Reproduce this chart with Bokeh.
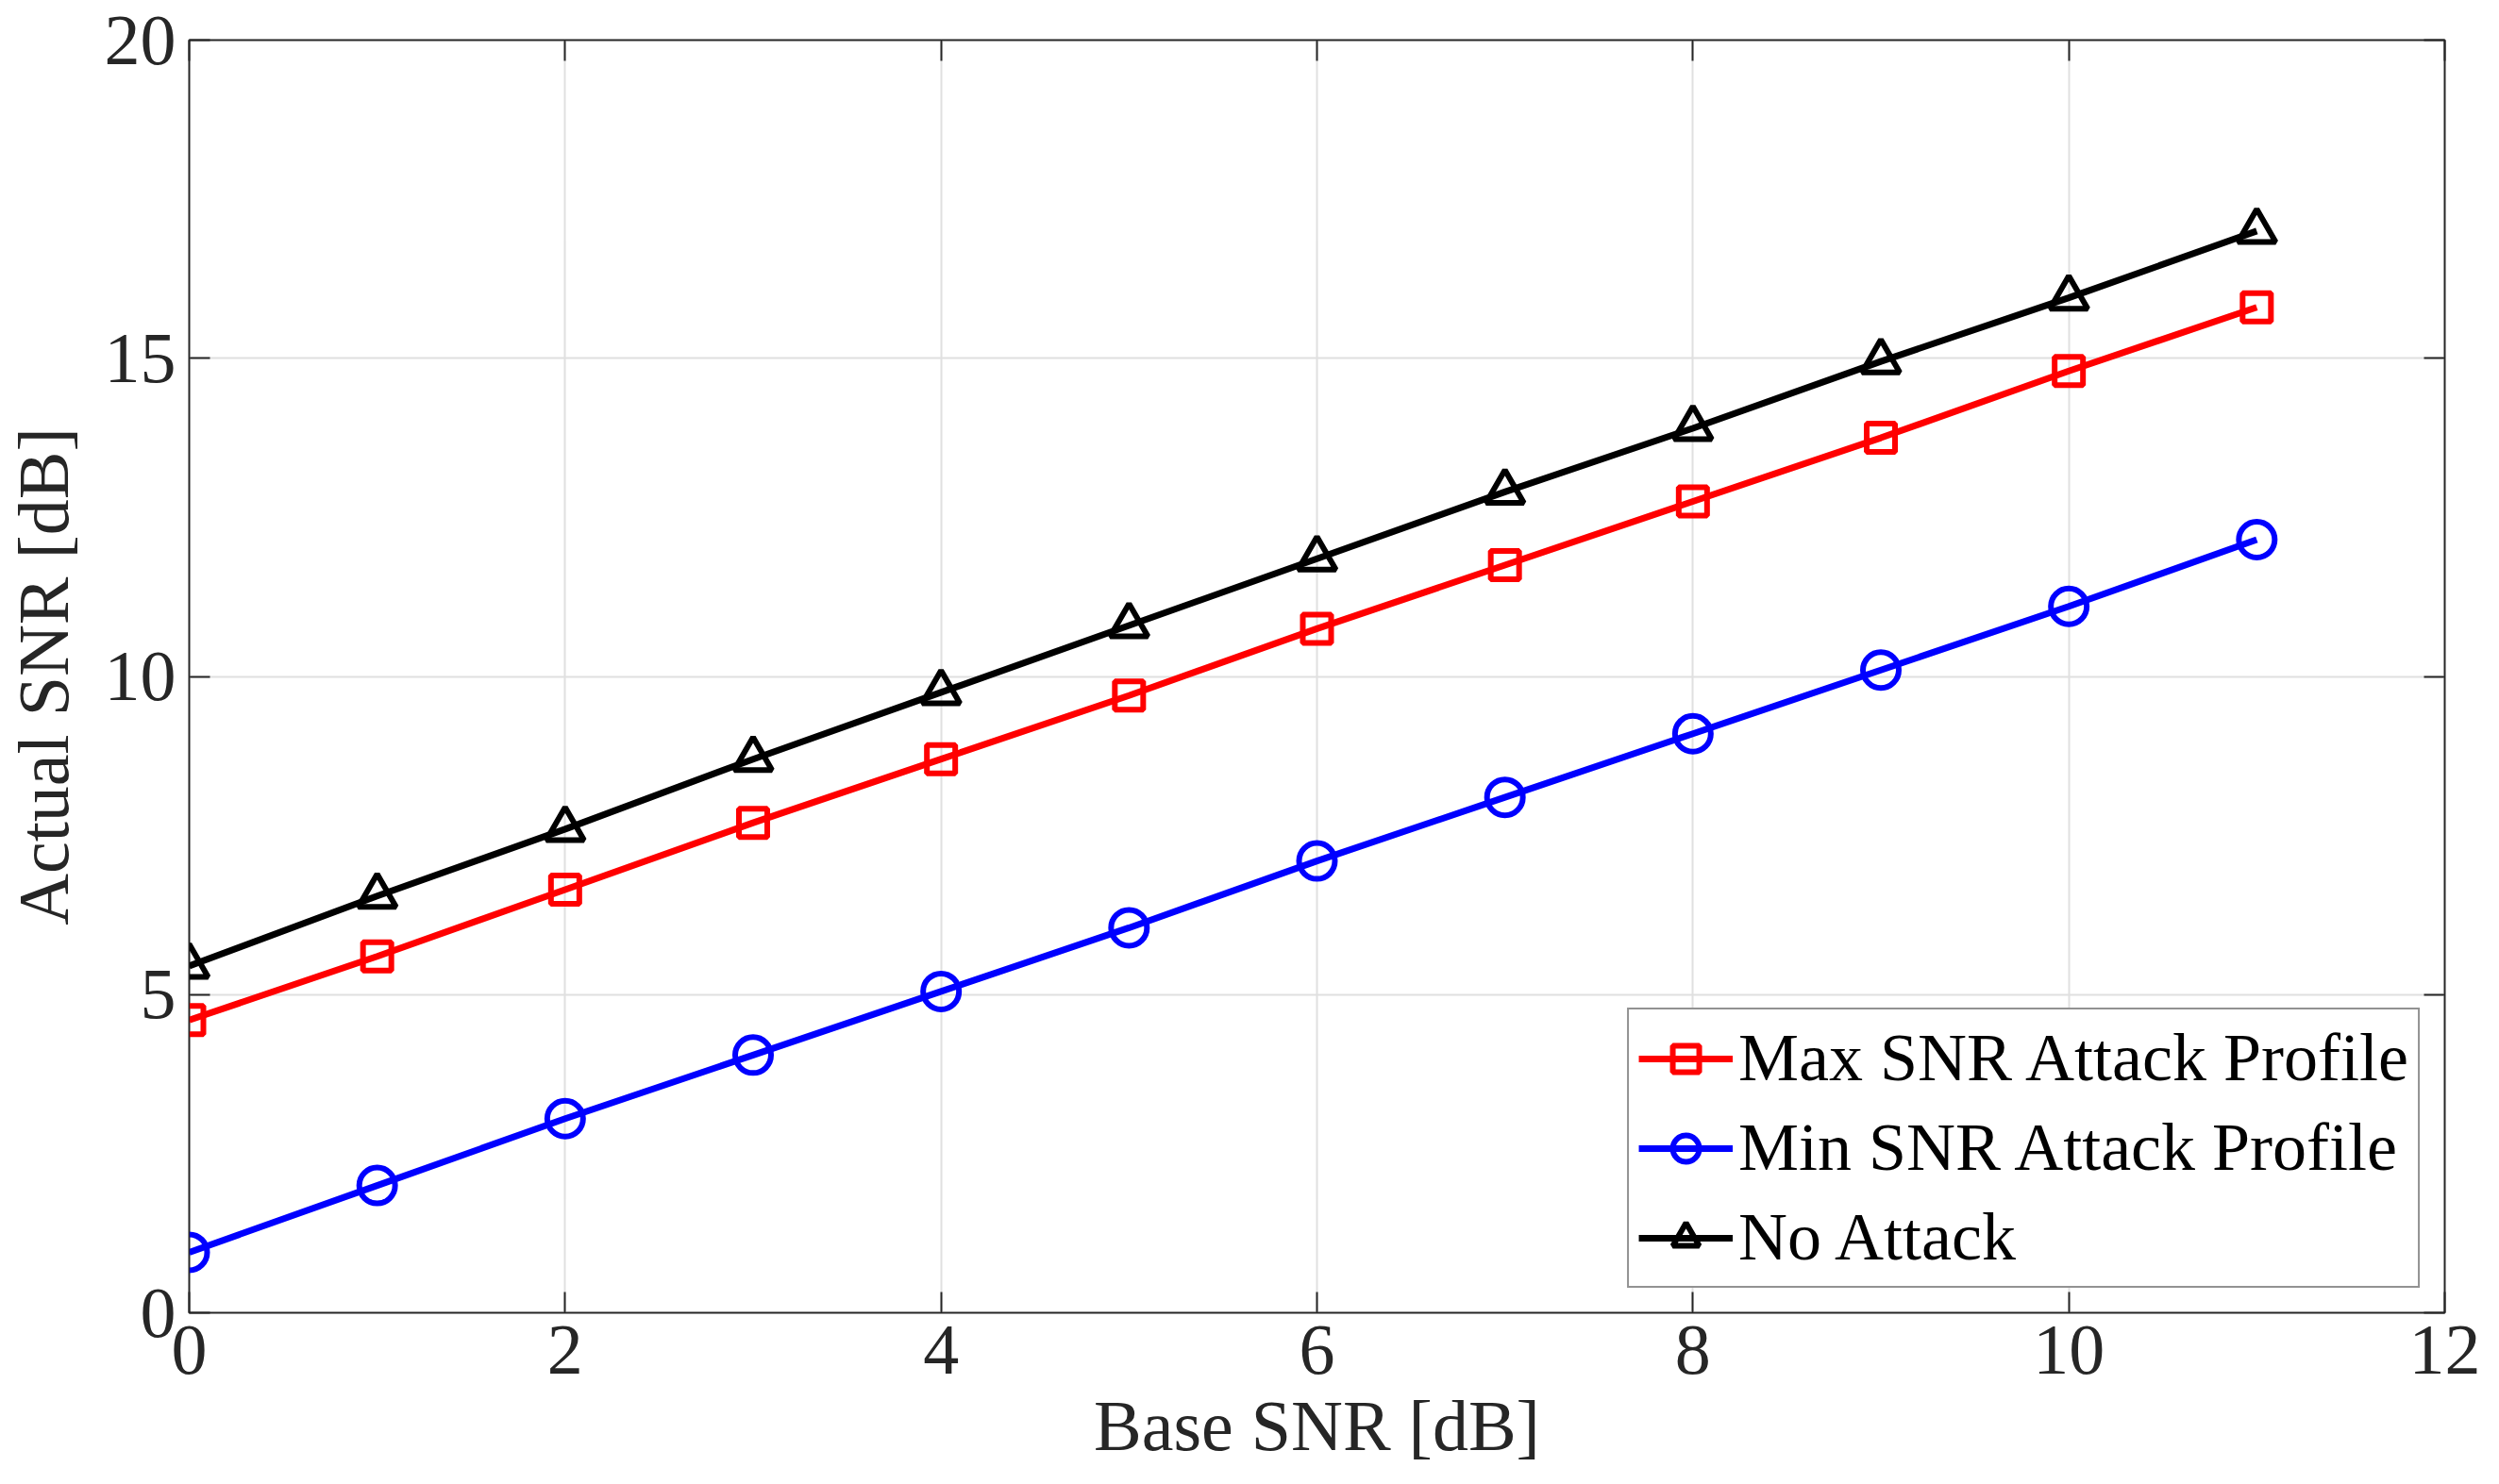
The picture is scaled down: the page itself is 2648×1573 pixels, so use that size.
from bokeh.plotting import figure
from bokeh.models import LinearAxis, Range1d, Legend, LegendItem, FixedTicker
from bokeh.embed import file_html
from bokeh.resources import INLINE

base_snr = [0, 1, 2, 3, 4, 5, 6, 7, 8, 9, 10, 11]
max_snr = [4.6, 5.6, 6.65, 7.7, 8.7, 9.7, 10.75, 11.75, 12.75, 13.75, 14.8, 15.8]
min_snr = [0.95, 2.0, 3.05, 4.05, 5.05, 6.05, 7.1, 8.1, 9.1, 10.1, 11.1, 12.15]
no_attack = [5.45, 6.55, 7.6, 8.7, 9.75, 10.8, 11.85, 12.9, 13.9, 14.95, 15.95, 17.0]
x_ticks = [0, 2, 4, 6, 8, 10, 12]
y_ticks = [0, 5, 10, 15, 20]

FONT = "Liberation Serif"
p = figure(width=2630, height=1555, output_backend="svg", toolbar_location=None,
           x_range=Range1d(0, 12), y_range=Range1d(0, 20),
           min_border_left=150, min_border_right=40, min_border_top=42, min_border_bottom=40)
p.outline_line_color = "#262626"
p.outline_line_width = 2

for ax in [p.xaxis[0], p.yaxis[0]]:
    ax.major_label_text_font = FONT
    ax.major_label_text_font_size = "76px"
    ax.major_label_text_color = "#262626"
    ax.axis_label_text_font = FONT
    ax.axis_label_text_font_size = "76px"
    ax.axis_label_text_font_style = "normal"
    ax.axis_label_text_color = "#262626"
    ax.major_tick_in = 22
    ax.major_tick_out = 0
    ax.minor_tick_line_color = None
    ax.axis_line_color = "#262626"
    ax.major_tick_line_color = "#262626"
    ax.major_tick_line_width = 2
p.xaxis[0].ticker = FixedTicker(ticks=x_ticks)
p.yaxis[0].ticker = FixedTicker(ticks=y_ticks)
p.xaxis[0].axis_label = "Base SNR [dB]"
p.yaxis[0].axis_label = "Actual SNR [dB]"
p.xaxis[0].major_label_standoff = 14
p.yaxis[0].major_label_standoff = 14
p.xaxis[0].axis_label_standoff = 10
p.yaxis[0].axis_label_standoff = 20

for loc, t in [("above", x_ticks), ("right", y_ticks)]:
    a = LinearAxis(ticker=FixedTicker(ticks=t), major_label_text_font_size="0px",
                   major_tick_in=22, major_tick_out=0, minor_tick_line_color=None,
                   axis_line_color="#262626", major_tick_line_color="#262626",
                   major_tick_line_width=2)
    p.add_layout(a, loc)

p.grid.grid_line_color = "#e0e0e0"
p.grid.grid_line_width = 2
p.xgrid.ticker = FixedTicker(ticks=x_ticks)
p.ygrid.ticker = FixedTicker(ticks=y_ticks)

items = []
for ys, col, marker, lab in [(max_snr, "#ff0000", "square", "Max SNR Attack Profile"),
                             (min_snr, "#0000ff", "circle", "Min SNR Attack Profile"),
                             (no_attack, "#000000", "triangle", "No Attack")]:
    l = p.line(base_snr, ys, line_color=col, line_width=7)
    size = 30 if marker == "square" else (40 if marker == "triangle" else 38)
    m = p.scatter(base_snr, ys, marker=marker, size=size, fill_color=None,
                  line_color=col, line_width=6)
    items.append(LegendItem(label=lab, renderers=[l, m]))

leg = Legend(items=items, location="bottom_right", label_text_font=FONT,
             label_text_font_size="72px", label_text_color="#000000",
             border_line_color="#262626", border_line_width=2,
             glyph_width=100, glyph_height=70, spacing=12, padding=10,
             margin=26, label_standoff=6, background_fill_alpha=1)
p.add_layout(leg)

open("out.html", "w").write(file_html(p, INLINE))
